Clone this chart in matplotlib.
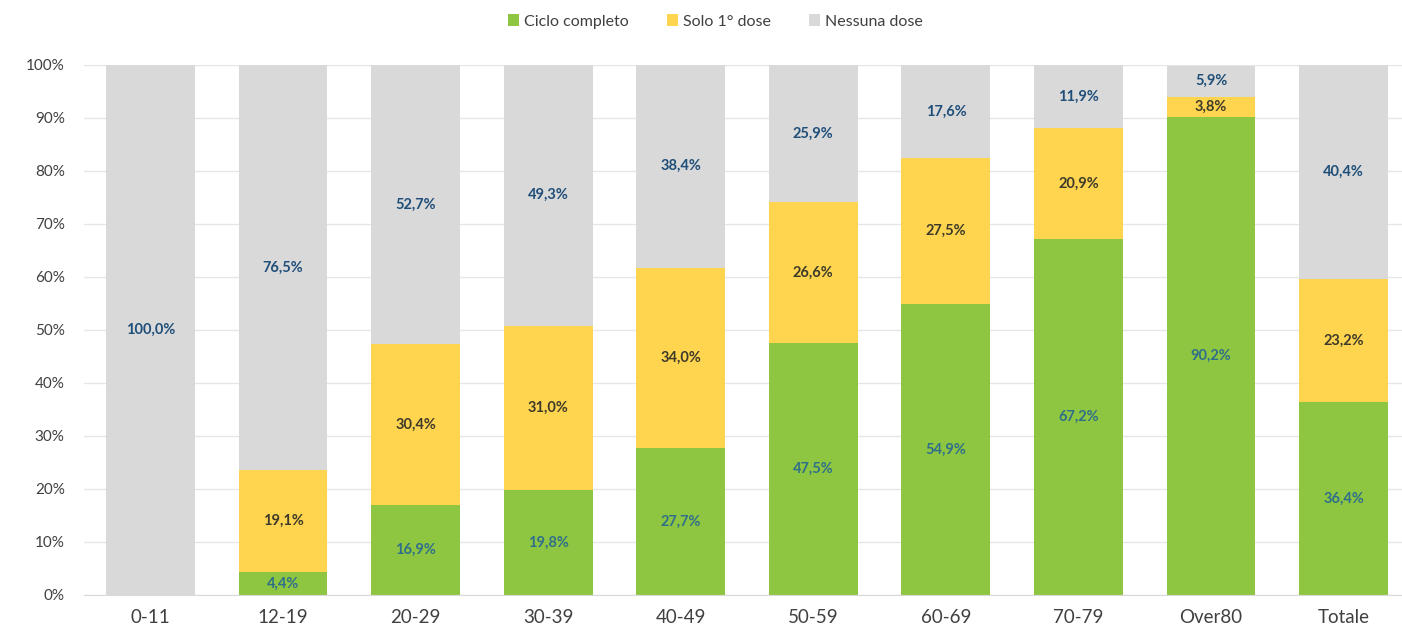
import matplotlib
matplotlib.use("Agg")
import matplotlib.pyplot as plt
import numpy as np

categories = ["0-11", "12-19", "20-29", "30-39", "40-49", "50-59", "60-69", "70-79", "Over80", "Totale"]
ciclo = [0.0, 4.4, 16.9, 19.8, 27.7, 47.5, 54.9, 67.2, 90.2, 36.4]
solo1 = [0.0, 19.1, 30.4, 31.0, 34.0, 26.6, 27.5, 20.9, 3.8, 23.2]
nessuna = [100.0, 76.5, 52.7, 49.3, 38.4, 25.9, 17.6, 11.9, 5.9, 40.4]
series_names = ["Ciclo completo", "Solo 1° dose", "Nessuna dose"]
yticks = [0, 10, 20, 30, 40, 50, 60, 70, 80, 90, 100]

plt.rcParams['font.family'] = ['Lato', 'DejaVu Sans']

colors = ["#8fc641", "#ffd54f", "#d9d9d9"]
label_colors = ["#2f6f8a", "#3d3a2a", "#1f4e79"]

fig = plt.figure(figsize=(14.02, 6.37), dpi=100)
ax = fig.add_axes([0.06, 0.066, 0.94, 0.832])

x = np.arange(len(categories))
width = 0.67
bottom = np.zeros(len(categories))
for vals, col, lc, name in zip([ciclo, solo1, nessuna], colors, label_colors, series_names):
    vals = np.array(vals)
    ax.bar(x, vals, width, bottom=bottom, color=col, label=name, zorder=2)
    for xi, v, b in zip(x, vals, bottom):
        if v > 0:
            ax.text(xi, b + v / 2, f"{v:.1f}%".replace(".", ","), ha="center", va="center",
                    fontsize=10.5, fontweight="bold", color=lc, zorder=3)
    bottom += vals

ax.set_xlim(-0.5, 9.44)
ax.set_ylim(0, 100)
ax.set_yticks(yticks)
ax.set_yticklabels([f"{t}%" for t in yticks], fontsize=11, color="#404040")
ax.set_xticks(x)
ax.set_xticklabels(categories, fontsize=13.5, color="#404040")
ax.tick_params(axis="both", length=0)
ax.tick_params(axis="x", pad=10)
ax.tick_params(axis="y", pad=14)
ax.grid(axis="y", color="#e6e6e6", linewidth=1, zorder=0)
for s in ["top", "right", "left"]:
    ax.spines[s].set_visible(False)
ax.spines["bottom"].set_color("#d9d9d9")

handles, labels = ax.get_legend_handles_labels()
fig.legend(handles, labels, loc="upper center", bbox_to_anchor=(0.51, 1.0), ncol=3, frameon=False,
           fontsize=11.5, handlelength=0.7, handleheight=0.7, handletextpad=0.3, columnspacing=2.4,
           labelcolor="#404040")

fig.savefig("out.png", dpi=100)
